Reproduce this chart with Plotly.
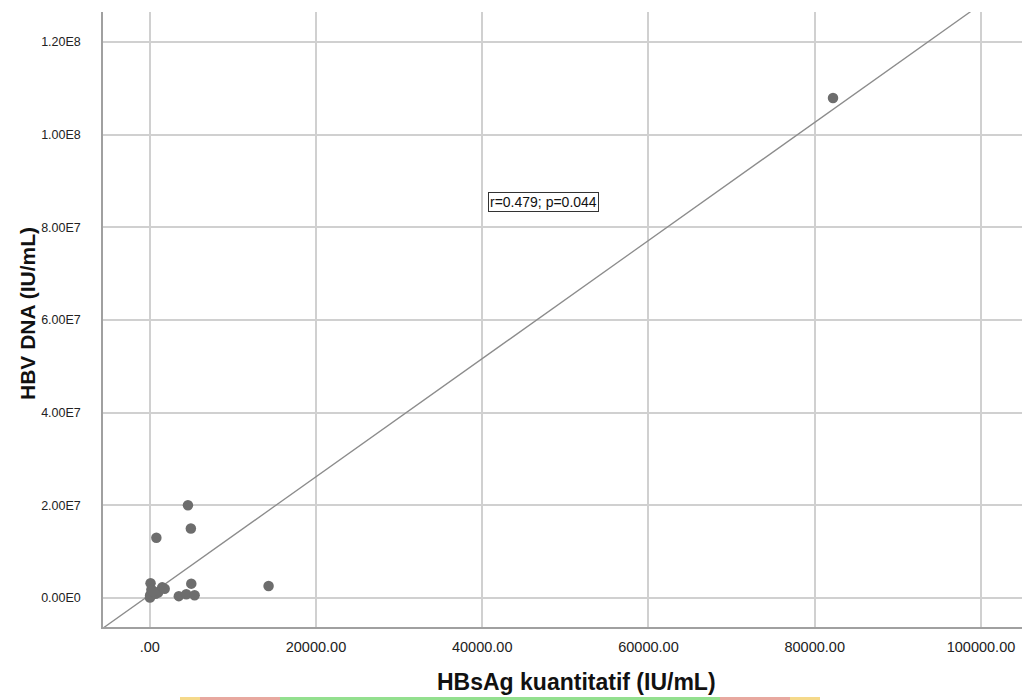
import plotly.graph_objects as go

# ---- data ----
hbsag = [82200, 4600, 4950, 800, 5000, 14300, 100, 200, 50, 30,
         1500, 1000, 700, 3500, 4400, 5400, 1800, 400]
hbv_dna = [1.079e8, 2.0e7, 1.5e7, 1.3e7, 3.1e6, 2.6e6, 3.2e6, 1.8e6, 0.6e6, 0.1e6,
           2.3e6, 1.2e6, 0.9e6, 0.4e6, 0.8e6, 0.6e6, 2.0e6, 1.5e6]

fit_slope = 1275.0
fit_intercept = 0.66e6

x_tick_vals = [0, 20000, 40000, 60000, 80000, 100000]
x_tick_text = [".00", "20000.00", "40000.00", "60000.00", "80000.00", "100000.00"]
y_tick_vals = [0, 2e7, 4e7, 6e7, 8e7, 1e8, 1.2e8]
y_tick_text = ["0.00E0", "2.00E7", "4.00E7", "6.00E7", "8.00E7", "1.00E8", "1.20E8"]

x_title = "HBsAg kuantitatif (IU/mL)"
y_title = "HBV DNA (IU/mL)"
stat_text = "r=0.479; p=0.044"
stat_pos = (47350, 8.547e7)

x_range = [-5620, 104934]
y_range = [-6.26e6, 1.2648e8]

FONT = "Liberation Sans, Arial, sans-serif"

fit_x = [x_range[0], x_range[1]]
fit_y = [fit_slope * v + fit_intercept for v in fit_x]

fig = go.Figure()
fig.add_trace(go.Scatter(x=fit_x, y=fit_y, mode="lines",
                         line=dict(color="#8c8c8c", width=1.3),
                         hoverinfo="skip", showlegend=False))
fig.add_trace(go.Scatter(x=hbsag, y=hbv_dna, mode="markers",
                         marker=dict(color="#6d6d6d", size=10.5, line=dict(width=0)),
                         showlegend=False))

axis_common = dict(showgrid=True, gridcolor="#d0d0d0", gridwidth=1.5, automargin=False,
                   zeroline=False, showline=True, linecolor="#a0a0a0", linewidth=1.5,
                   ticks="")

fig.update_xaxes(range=x_range, tickmode="array", tickvals=x_tick_vals,
                 ticktext=x_tick_text, ticklabelstandoff=6,
                 tickfont=dict(family=FONT, size=14.5, color="#222222"), **axis_common)
fig.update_yaxes(range=y_range, tickmode="array", tickvals=y_tick_vals,
                 ticktext=y_tick_text, ticklabelstandoff=18,
                 tickfont=dict(family=FONT, size=12.5, color="#222222"), **axis_common)

W, H = 1022, 700
L, R, T, B = 103, 0, 12, 73
pw, ph = W - L - R, H - T - B

def px_to_paper(px, py):
    return (px - L) / pw, (H - B - py) / ph

xt = px_to_paper(576, 682)
yt = px_to_paper(27, 314)

fig.add_annotation(x=xt[0], y=xt[1], xref="paper", yref="paper", text=f"<b>{x_title}</b>",
                   showarrow=False, xanchor="center", yanchor="middle",
                   font=dict(family=FONT, size=23, color="#111111"))
fig.add_annotation(x=yt[0], y=yt[1], xref="paper", yref="paper", text=f"<b>{y_title}</b>",
                   showarrow=False, textangle=-90, xanchor="center", yanchor="middle",
                   font=dict(family=FONT, size=21, color="#111111"))
fig.add_annotation(x=stat_pos[0], y=stat_pos[1], xref="x", yref="y", text=stat_text,
                   showarrow=False, bordercolor="#333333", borderwidth=1, borderpad=1,
                   bgcolor="white", font=dict(family=FONT, size=14, color="#111111"))

# thin coloured strip at the bottom edge of the picture
strip = [(180, 200, "#f5d98a"), (200, 280, "#e8a9a0"), (280, 720, "#93e08f"),
         (720, 790, "#e8a9a0"), (790, 820, "#f5d98a")]
for x0, x1, c in strip:
    p0 = px_to_paper(x0, 700)
    p1 = px_to_paper(x1, 697)
    fig.add_shape(type="rect", xref="paper", yref="paper", x0=p0[0], x1=p1[0],
                  y0=p0[1], y1=p1[1], fillcolor=c, line=dict(width=0), layer="below")

fig.update_layout(width=W, height=H, margin=dict(l=L, r=R, t=T, b=B, autoexpand=False),
                  plot_bgcolor="white", paper_bgcolor="white",
                  font=dict(family=FONT), hovermode=False)

fig.write_html("out.html", config={"displayModeBar": False},
               post_script="document.body.style.margin='0';document.body.style.overflow='hidden';")
